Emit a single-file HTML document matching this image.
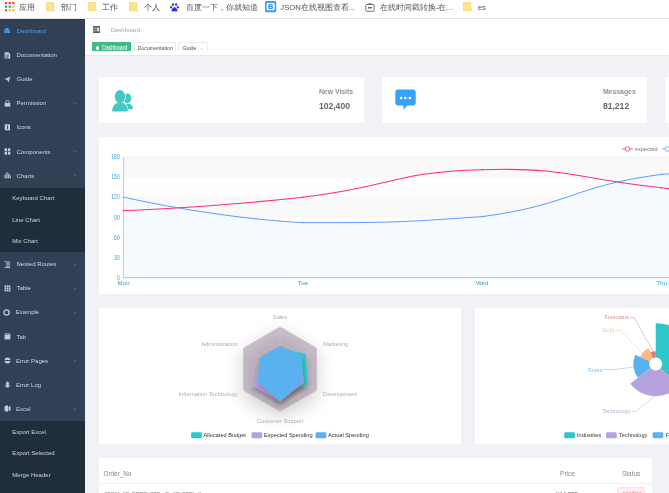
<!DOCTYPE html>
<html><head><meta charset="utf-8">
<style>
*{margin:0;padding:0;box-sizing:border-box;}
html,body{width:669px;height:493px;overflow:hidden;}
body{position:relative;background:#f0f2f5;font-family:"Liberation Sans",sans-serif;}
.abs{position:absolute;}
.t{position:absolute;white-space:nowrap;line-height:1;}
#bm{left:0;top:0;width:669px;height:19px;background:#fff;border-bottom:1px solid #e3e4e8;}
#bm .t{font-size:7.7px;color:#505357;top:3.6px;}
#side{left:0;top:19px;width:85.2px;height:474px;background:#304156;overflow:hidden;}
.mi{position:absolute;left:0;width:85.2px;height:24.1px;}
.mi .t{left:16.5px;top:8.9px;font-size:6.03px;color:#cdd6e0;}
.mi svg{position:absolute;left:3.8px;top:9px;}
.sub{position:absolute;left:0;width:85.2px;background:#1f2d3d;}
.si{position:absolute;left:0;width:85.2px;height:21.5px;}
.si .t{left:12.2px;top:7.6px;font-size:6.03px;color:#cdd6e0;}
.mi svg.chev{position:absolute;left:72.6px;top:10.6px;}
.card{position:absolute;background:#fff;}
#root{position:absolute;left:0;top:0;width:669px;height:493px;will-change:transform;}
</style></head><body><div id="root">
<!-- bookmarks bar -->
<div id="bm" class="abs">
  <svg class="abs" style="left:4.8px;top:2.2px" width="10" height="10" viewBox="0 0 10 10">
    <rect x="0" y="0" width="2.2" height="2.2" fill="#ea4335"/><rect x="3.6" y="0" width="2.2" height="2.2" fill="#ea4335"/><rect x="7.2" y="0" width="2.2" height="2.2" fill="#ea4335"/>
    <rect x="0" y="3.6" width="2.2" height="2.2" fill="#34a853"/><rect x="3.6" y="3.6" width="2.2" height="2.2" fill="#4285f4"/><rect x="7.2" y="3.6" width="2.2" height="2.2" fill="#fbbc05"/>
    <rect x="0" y="7.2" width="2.2" height="2.2" fill="#34a853"/><rect x="3.6" y="7.2" width="2.2" height="2.2" fill="#fbbc05"/><rect x="7.2" y="7.2" width="2.2" height="2.2" fill="#fbbc05"/>
  </svg>
  <span class="t" style="left:19.4px">应用</span>
  <svg class="abs" style="left:46.3px;top:2px" width="9" height="9.5" viewBox="0 0 9 9.5"><path d="M0.5 0.9 Q0.5 0.3 1.1 0.3 L7.2 0.3 Q7.8 0.3 7.8 0.9 L7.8 7 L8.3 7.5 L8.3 8.8 L1.1 8.8 Q0.5 8.8 0.5 8.2Z" fill="#fde48c" stroke="#f4cf63" stroke-width="0.6"/></svg>
  <span class="t" style="left:60.8px">部门</span>
  <svg class="abs" style="left:87.6px;top:2px" width="9" height="9.5" viewBox="0 0 9 9.5"><path d="M0.5 0.9 Q0.5 0.3 1.1 0.3 L7.2 0.3 Q7.8 0.3 7.8 0.9 L7.8 7 L8.3 7.5 L8.3 8.8 L1.1 8.8 Q0.5 8.8 0.5 8.2Z" fill="#fde48c" stroke="#f4cf63" stroke-width="0.6"/></svg>
  <span class="t" style="left:102.2px">工作</span>
  <svg class="abs" style="left:129px;top:2px" width="9" height="9.5" viewBox="0 0 9 9.5"><path d="M0.5 0.9 Q0.5 0.3 1.1 0.3 L7.2 0.3 Q7.8 0.3 7.8 0.9 L7.8 7 L8.3 7.5 L8.3 8.8 L1.1 8.8 Q0.5 8.8 0.5 8.2Z" fill="#fde48c" stroke="#f4cf63" stroke-width="0.6"/></svg>
  <span class="t" style="left:143.6px">个人</span>
  <svg class="abs" style="left:170px;top:2.5px" width="9" height="9" viewBox="0 0 9 9"><g fill="#2932e1"><ellipse cx="2.9" cy="1.6" rx="1.1" ry="1.4"/><ellipse cx="6.1" cy="1.6" rx="1.1" ry="1.4"/><ellipse cx="1.1" cy="4.2" rx="1" ry="1.3"/><ellipse cx="7.9" cy="4.2" rx="1" ry="1.3"/><path d="M4.5 4.3 C3 4.3 1.6 6.4 1.6 7.4 C1.6 8.6 3 8.5 4.5 8.3 C6 8.5 7.4 8.6 7.4 7.4 C7.4 6.4 6 4.3 4.5 4.3Z"/></g></svg>
  <span class="t" style="left:185.6px">百度一下，你就知道</span>
  <svg class="abs" style="left:265px;top:1.3px" width="12" height="12" viewBox="0 0 12 12"><rect x="0" y="0" width="11.2" height="11.2" rx="1.2" fill="#3d9cf5"/><path d="M2.4 2 Q1.7 2 1.7 2.7 L1.7 4.8 L1.1 5.6 L1.7 6.4 L1.7 8.5 Q1.7 9.2 2.4 9.2 L8.8 9.2 Q9.5 9.2 9.5 8.5 L9.5 6.4 L10.1 5.6 L9.5 4.8 L9.5 2.7 Q9.5 2 8.8 2Z" fill="#fff"/><text x="5.6" y="8.4" font-size="7.4" font-weight="bold" text-anchor="middle" fill="#1a7ff0" font-family="Liberation Sans">B</text></svg>
  <span class="t" style="left:280.3px">JSON在线视图查看...</span>
  <svg class="abs" style="left:364.8px;top:2.5px" width="10" height="9" viewBox="0 0 10 9"><rect x="0.8" y="1.5" width="8.2" height="6.8" rx="0.8" fill="none" stroke="#5f6368" stroke-width="0.9"/><rect x="3.3" y="0.4" width="3.2" height="1.6" fill="#5f6368"/><rect x="3" y="4" width="3.8" height="1.5" fill="#5f6368"/></svg>
  <span class="t" style="left:379.8px">在线时间戳转换-在...</span>
  <svg class="abs" style="left:463px;top:2px" width="9" height="9.5" viewBox="0 0 9 9.5"><path d="M0.5 0.9 Q0.5 0.3 1.1 0.3 L7.2 0.3 Q7.8 0.3 7.8 0.9 L7.8 7 L8.3 7.5 L8.3 8.8 L1.1 8.8 Q0.5 8.8 0.5 8.2Z" fill="#fde48c" stroke="#f4cf63" stroke-width="0.6"/></svg>
  <span class="t" style="left:477.7px">es</span>
</div>

<!-- sidebar -->
<div id="side" class="abs">
  <div class="mi" style="top:0.2px"><svg width="7" height="6" viewBox="0 0 7 6" style="top:9.1px"><path d="M0 5.1 C0 1.8 1.3 0 3 0 C4.7 0 6 1.8 6 5.1 Z" fill="#409EFF"/><rect x="1.9" y="2.3" width="0.6" height="2.8" fill="#304156"/><path d="M3.6 3.2 L5 2.6" stroke="#304156" stroke-width="0.5"/></svg><span class="t" style="color:#409EFF">Dashboard</span></div>
  <div class="mi" style="top:24.3px"><svg width="7" height="7" viewBox="0 0 7 7" style="top:8.3px"><path d="M0.6 0.3 L4.4 0.3 L6.2 2 L6.2 6.6 L0.6 6.6Z" fill="#bfcbd9"/><path d="M1.6 3 H5 M1.6 4.3 H5 M1.6 5.5 H4" stroke="#304156" stroke-width="0.6"/></svg><span class="t">Documentation</span></div>
  <div class="mi" style="top:48.4px"><svg width="7" height="7" viewBox="0 0 7 7" style="top:8.6px"><path d="M0.3 3.2 L6.4 0.4 L4.5 6.5 L3.3 4.1Z" fill="#bfcbd9"/></svg><span class="t">Guide</span></div>
  <div class="mi" style="top:72.5px"><svg width="7" height="7" viewBox="0 0 7 7" style="top:8.4px"><path d="M1.8 3.2 V2.2 A1.7 1.7 0 0 1 5.2 2.2 V3.2" stroke="#bfcbd9" stroke-width="0.9" fill="none"/><rect x="0.7" y="3" width="5.6" height="3.6" fill="#bfcbd9"/></svg><span class="t">Permission</span><svg class="chev" width="4" height="3" viewBox="0 0 4 3"><path d="M0.4 0.6 L2 2.2 L3.6 0.6" stroke="#7d8a99" stroke-width="0.5" fill="none"/></svg></div>
  <div class="mi" style="top:96.6px"><svg width="7" height="7" viewBox="0 0 7 7" style="top:8.6px"><rect x="0.8" y="0.3" width="5.2" height="6" fill="#bfcbd9"/><rect x="3" y="1.4" width="0.9" height="3.8" fill="#304156"/></svg><span class="t">Icons</span></div>
  <div class="mi" style="top:120.7px"><svg width="7" height="7" viewBox="0 0 7 7" style="top:8.4px"><rect x="0.6" y="0.3" width="2.4" height="2.9" fill="#bfcbd9"/><rect x="3.9" y="0.3" width="2.4" height="2.9" fill="#bfcbd9"/><rect x="0.6" y="3.8" width="2.4" height="2.9" fill="#bfcbd9"/><rect x="3.9" y="3.8" width="2.4" height="2.9" fill="#bfcbd9"/></svg><span class="t">Components</span><svg class="chev" width="4" height="3" viewBox="0 0 4 3"><path d="M0.4 0.6 L2 2.2 L3.6 0.6" stroke="#7d8a99" stroke-width="0.5" fill="none"/></svg></div>
  <div class="mi" style="top:144.8px"><svg width="7" height="7" viewBox="0 0 7 7" style="top:8.6px"><rect x="0.5" y="2.6" width="1.2" height="3.8" fill="#bfcbd9"/><rect x="2.3" y="0.3" width="1.2" height="6.1" fill="#bfcbd9"/><rect x="4.1" y="1.6" width="1.2" height="4.8" fill="#bfcbd9"/><rect x="5.8" y="3.2" width="1" height="3.2" fill="#bfcbd9"/></svg><span class="t">Charts</span><svg class="chev" width="4" height="3" viewBox="0 0 4 3"><path d="M0.4 2.2 L2 0.6 L3.6 2.2" stroke="#7d8a99" stroke-width="0.5" fill="none"/></svg></div>
  <div class="sub" style="top:168.9px;height:64.5px">
    <div class="si" style="top:0"><span class="t">Keyboard Chart</span></div>
    <div class="si" style="top:21.5px"><span class="t">Line Chart</span></div>
    <div class="si" style="top:43px"><span class="t">Mix Chart</span></div>
  </div>
  <div class="mi" style="top:233.4px"><svg width="7" height="7" viewBox="0 0 7 7" style="top:8.6px"><path d="M0.5 0.8 H6 M2 2.3 H6 M2 3.8 H6 M2 5.3 H6 M0.5 6.5 H6" stroke="#bfcbd9" stroke-width="0.8"/></svg><span class="t">Nested Routes</span><svg class="chev" width="4" height="3" viewBox="0 0 4 3"><path d="M0.4 0.6 L2 2.2 L3.6 0.6" stroke="#7d8a99" stroke-width="0.5" fill="none"/></svg></div>
  <div class="mi" style="top:257.5px"><svg width="7" height="7" viewBox="0 0 7 7" style="top:8.6px"><rect x="0.6" y="0.4" width="5.8" height="6" fill="#bfcbd9"/><path d="M0.6 2.4 H6.4 M0.6 4.4 H6.4 M2.5 0.4 V6.4 M4.5 0.4 V6.4" stroke="#304156" stroke-width="0.45"/></svg><span class="t">Table</span><svg class="chev" width="4" height="3" viewBox="0 0 4 3"><path d="M0.4 0.6 L2 2.2 L3.6 0.6" stroke="#7d8a99" stroke-width="0.5" fill="none"/></svg></div>
  <div class="mi" style="top:281.6px"><svg width="7" height="7" viewBox="0 0 7 7" style="left:3.2px;top:8.4px"><circle cx="3.5" cy="3.5" r="2.6" stroke="#bfcbd9" stroke-width="1.4" fill="none"/></svg><span class="t" style="left:15.8px">Example</span><svg class="chev" width="4" height="3" viewBox="0 0 4 3"><path d="M0.4 0.6 L2 2.2 L3.6 0.6" stroke="#7d8a99" stroke-width="0.5" fill="none"/></svg></div>
  <div class="mi" style="top:305.7px"><svg width="7" height="7" viewBox="0 0 7 7" style="top:8.6px"><rect x="0.6" y="0.4" width="5.8" height="6" fill="#bfcbd9"/><rect x="0.6" y="1.2" width="5.8" height="0.5" fill="#304156"/></svg><span class="t">Tab</span></div>
  <div class="mi" style="top:329.8px"><svg width="7" height="7" viewBox="0 0 7 7" style="top:8.4px"><circle cx="3.5" cy="3.5" r="3" fill="#bfcbd9"/><rect x="0.3" y="3" width="6.4" height="1" fill="#304156"/></svg><span class="t" style="left:16px">Error Pages</span><svg class="chev" width="4" height="3" viewBox="0 0 4 3"><path d="M0.4 0.6 L2 2.2 L3.6 0.6" stroke="#7d8a99" stroke-width="0.5" fill="none"/></svg></div>
  <div class="mi" style="top:353.9px"><svg width="7" height="7" viewBox="0 0 7 7" style="top:8.4px"><path d="M3.5 0.3 L5.6 2.4 L4.8 2.4 L4.8 6.6 L2.2 6.6 L2.2 2.4 L1.4 2.4Z" fill="#bfcbd9"/><rect x="0.6" y="4.5" width="5.8" height="0.8" fill="#bfcbd9"/></svg><span class="t" style="left:16px">Error Log</span></div>
  <div class="mi" style="top:378px"><svg width="7" height="7" viewBox="0 0 7 7" style="top:8.4px"><path d="M0.5 1 L4 0.3 L4 6.7 L0.5 6Z" fill="#bfcbd9"/><rect x="4.5" y="1.4" width="2" height="4.2" fill="#bfcbd9"/></svg><span class="t" style="left:16px">Excel</span><svg class="chev" width="4" height="3" viewBox="0 0 4 3"><path d="M0.4 2.2 L2 0.6 L3.6 2.2" stroke="#7d8a99" stroke-width="0.5" fill="none"/></svg></div>
  <div class="sub" style="top:402.1px;height:80px">
    <div class="si" style="top:0"><span class="t">Export Excel</span></div>
    <div class="si" style="top:21.5px"><span class="t">Export Selected</span></div>
    <div class="si" style="top:43px"><span class="t">Merge Header</span></div>
  </div>
</div>

<!-- navbar -->
<div class="abs" style="left:85.2px;top:19px;width:584px;height:21.5px;background:#fff;box-shadow:0 0.43px 1.7px rgba(0,21,41,.08);">
  <svg class="abs" style="left:7.7px;top:6.9px" width="7.2" height="7" viewBox="0 0 7.2 7"><rect x="0" y="0" width="7" height="6.9" fill="#949494"/><rect x="0" y="0" width="7" height="1.2" fill="#5c5c5c"/><rect x="0" y="5.6" width="7" height="1.3" fill="#555"/><rect x="0" y="2.9" width="4.4" height="1.1" fill="#6e6e6e"/><rect x="4.5" y="2.2" width="1.6" height="2.9" fill="#fff"/><path d="M5.9 2.5 L7 3.6 L5.9 4.7Z" fill="#555"/></svg>
  <span class="t" style="left:25.5px;top:7.7px;font-size:6px;color:#97a8be">Dashboard</span>
</div>
<!-- tags view -->
<div class="abs" style="left:85.2px;top:40.5px;width:584px;height:14px;background:#fff;box-shadow:0 0.5px 1.5px rgba(0,0,0,.10),0 0 1.3px rgba(0,0,0,.04);overflow:hidden">
  <div class="abs" style="left:6.8px;top:1.6px;width:38.9px;height:8.7px;background:#42b983;overflow:hidden">
    <div class="abs" style="left:3.7px;top:4.3px;width:3.4px;height:3.4px;border-radius:50%;background:#fff"></div>
    <span class="t" style="left:9.8px;top:3.3px;font-size:6.8px;color:#fff;transform:scale(0.76,1);transform-origin:0 0">Dashboard</span>
  </div>
  <div class="abs" style="left:48.4px;top:1.6px;width:42px;height:8.7px;border:0.5px solid #eaecf0;border-bottom:none;overflow:hidden">
    <span class="t" style="left:3px;top:3.4px;font-size:5.25px;color:#495060">Documentation</span>
  </div>
  <div class="abs" style="left:92.8px;top:1.6px;width:29.9px;height:8.7px;border:0.5px solid #eaecf0;border-bottom:none;overflow:hidden">
    <span class="t" style="left:3.4px;top:3.4px;font-size:5.3px;color:#495060">Guide</span>
    <svg class="abs" style="left:21.4px;top:5.2px" width="3" height="2" viewBox="0 0 3 2"><path d="M0.4 0.4 L1.5 1.5 L2.6 0.4" stroke="#9aa" stroke-width="0.5" fill="none"/></svg>
  </div>
</div>

<!-- panel cards -->
<div class="card" style="left:99.2px;top:77px;width:265.2px;height:46.4px">
  <svg class="abs" style="left:12px;top:11.5px" width="23" height="24" viewBox="0 0 23 24"><g fill="#40c9c6"><ellipse cx="16.4" cy="9.3" rx="3.9" ry="4.9"/><path d="M13 20.5 C13 17 15 14.8 17.6 14.8 C20.2 14.8 21.9 17.2 21.9 19.6 Q21.9 20.3 21.2 20.3 L13 20.5Z"/></g><g fill="#40c9c6" stroke="#fff" stroke-width="1.3"><ellipse cx="9" cy="7.6" rx="5.2" ry="6.6"/><path d="M1.2 21.8 C1.2 16.8 4.5 13.6 9 13.6 C13.5 13.6 16.9 16.8 16.9 21.8 Q16.9 22.6 16.1 22.6 L2 22.6 Q1.2 22.6 1.2 21.8Z"/></g><g fill="#40c9c6"><ellipse cx="9" cy="7.6" rx="5.2" ry="6.6"/><path d="M1.2 21.8 C1.2 16.8 4.5 13.6 9 13.6 C13.5 13.6 16.9 16.8 16.9 21.8 Q16.9 22.6 16.1 22.6 L2 22.6 Q1.2 22.6 1.2 21.8Z"/></g></svg>
  <span class="t" style="left:219.7px;top:12.2px;font-size:6.88px;font-weight:bold;color:rgba(0,0,0,.45)">New Visits</span>
  <span class="t" style="left:219.7px;top:24.8px;font-size:8.6px;font-weight:bold;color:#666">102,400</span>
</div>
<div class="card" style="left:382px;top:77px;width:265.2px;height:46.4px">
  <svg class="abs" style="left:12.6px;top:12.3px" width="22" height="22" viewBox="0 0 22 22"><path d="M3.2 0.4 H17.8 Q20.7 0.4 20.7 3.3 V13.6 Q20.7 16.5 17.8 16.5 H12.5 L8.3 20.8 L8.3 16.5 H3.2 Q0.3 16.5 0.3 13.6 V3.3 Q0.3 0.4 3.2 0.4Z" fill="#36a3f7"/><circle cx="6.1" cy="9" r="1.3" fill="#fff"/><circle cx="10.4" cy="9" r="1.3" fill="#fff"/><circle cx="14.9" cy="9" r="1.3" fill="#fff"/></svg>
  <span class="t" style="left:220.9px;top:12.2px;font-size:6.88px;font-weight:bold;color:rgba(0,0,0,.45)">Messages</span>
  <span class="t" style="left:220.9px;top:24.8px;font-size:8.6px;font-weight:bold;color:#666">81,212</span>
</div>
<div class="card" style="left:664.8px;top:77px;width:265.2px;height:46.4px"></div>

<!-- line chart card -->
<div class="card" style="left:99.1px;top:136.9px;width:1113px;height:157.6px"></div>
<!-- radar card -->
<div class="card" style="left:99.1px;top:308.1px;width:361.9px;height:135.9px"></div>
<!-- pie card -->
<div class="card" style="left:474.8px;top:308.1px;width:361.9px;height:135.9px"></div>
<!-- table card -->
<div class="card" style="left:99.1px;top:457.9px;width:553px;height:60px">
  <span class="t" style="left:4.4px;top:13.5px;font-size:6.33px;color:#83868c">Order_No</span>
  <span class="t" style="left:461px;top:13.5px;font-size:6.5px;color:#83868c">Price</span>
  <span class="t" style="left:522.9px;top:13.5px;font-size:6.45px;color:#83868c">Status</span>
  <div class="abs" style="left:0;top:24.8px;width:553px;height:0.5px;background:#eef0f4"></div>
  <span class="t" style="left:4.8px;top:33px;font-size:6.1px;color:#7d8086">4536fc1B-EEEE-335c-Be6B-53Bbdb</span>
  <span class="t" style="left:457px;top:33px;font-size:6px;color:#606266">¥14,333</span>
  <div class="abs" style="left:518px;top:29.6px;width:28px;height:9px;border-radius:1.7px;background:#fef0f0;border:0.43px solid #fde2e2"><span class="t" style="left:4.8px;top:2.6px;font-size:5.2px;color:#f56c6c">pending</span></div>
</div>

<svg class="abs" style="left:0;top:0" width="669" height="493" viewBox="0 0 669 493">
<rect x="123.60" y="257.57" width="1075.80" height="20.13" fill="rgba(250,250,250,0.1)"/><rect x="123.60" y="237.43" width="1075.80" height="20.13" fill="rgba(200,200,200,0.1)"/><rect x="123.60" y="217.30" width="1075.80" height="20.13" fill="rgba(250,250,250,0.1)"/><rect x="123.60" y="197.17" width="1075.80" height="20.13" fill="rgba(200,200,200,0.1)"/><rect x="123.60" y="177.03" width="1075.80" height="20.13" fill="rgba(250,250,250,0.1)"/><rect x="123.60" y="156.90" width="1075.80" height="20.13" fill="rgba(200,200,200,0.1)"/><line x1="123.60" y1="257.57" x2="1199.40" y2="257.57" stroke="#eee" stroke-width="0.43"/><line x1="123.60" y1="237.43" x2="1199.40" y2="237.43" stroke="#eee" stroke-width="0.43"/><line x1="123.60" y1="217.30" x2="1199.40" y2="217.30" stroke="#eee" stroke-width="0.43"/><line x1="123.60" y1="197.17" x2="1199.40" y2="197.17" stroke="#eee" stroke-width="0.43"/><line x1="123.60" y1="177.03" x2="1199.40" y2="177.03" stroke="#eee" stroke-width="0.43"/><line x1="123.60" y1="156.90" x2="1199.40" y2="156.90" stroke="#eee" stroke-width="0.43"/>
<path d="M123.60 197.17 C123.60 197.17 212.83 217.78 302.90 222.67 C392.13 222.67 393.74 222.67 482.20 216.63 C573.04 204.39 570.66 186.42 661.50 174.35 C749.96 168.98 751.28 168.98 840.80 168.98 C930.58 171.33 930.31 180.89 1020.10 183.74 C1109.61 186.59 1199.40 180.39 1199.40 180.39 L1199.40 277.70 L123.60 277.70 Z" fill="#f3f8ff" fill-opacity="0.7"/>
<line x1="123.6" y1="277.7" x2="1199.4" y2="277.7" stroke="#7cc3e8" stroke-width="0.9"/>
<line x1="123.6" y1="277.7" x2="123.6" y2="156.9" stroke="#86c7ea" stroke-width="0.7"/>
<g font-size="6.4" fill="#3aa2d8"><text transform="translate(119.8 280.00) scale(0.8 1)" text-anchor="end">0</text><text transform="translate(119.8 259.87) scale(0.8 1)" text-anchor="end">30</text><text transform="translate(119.8 239.73) scale(0.8 1)" text-anchor="end">60</text><text transform="translate(119.8 219.60) scale(0.8 1)" text-anchor="end">90</text><text transform="translate(119.8 199.47) scale(0.8 1)" text-anchor="end">120</text><text transform="translate(119.8 179.33) scale(0.8 1)" text-anchor="end">150</text><text transform="translate(119.8 159.20) scale(0.8 1)" text-anchor="end">180</text></g><g font-size="6.2" fill="#2a9ad4"><text x="123.60" y="285.2" text-anchor="middle">Mon</text><text x="302.90" y="285.2" text-anchor="middle">Tue</text><text x="482.20" y="285.2" text-anchor="middle">Wed</text><text x="661.50" y="285.2" text-anchor="middle">Thu</text><text x="840.80" y="285.2" text-anchor="middle">Fri</text><text x="1020.10" y="285.2" text-anchor="middle">Sat</text><text x="1199.40" y="285.2" text-anchor="middle">Sun</text></g>
<path d="M123.60 210.59 C123.60 210.59 213.65 207.36 302.90 197.17 C392.95 186.89 392.26 172.01 482.20 169.65 C571.56 167.31 571.88 178.38 661.50 187.77 C751.18 197.17 751.82 210.59 840.80 207.23 C931.12 202.84 929.53 180.49 1020.10 170.32 C1108.83 166.97 1199.40 166.97 1199.40 166.97" fill="none" stroke="#FF005A" stroke-width="1.05" stroke-opacity="0.82"/>
<path d="M123.60 197.17 C123.60 197.17 212.83 217.78 302.90 222.67 C392.13 222.67 393.74 222.67 482.20 216.63 C573.04 204.39 570.66 186.42 661.50 174.35 C749.96 168.98 751.28 168.98 840.80 168.98 C930.58 171.33 930.31 180.89 1020.10 183.74 C1109.61 186.59 1199.40 180.39 1199.40 180.39" fill="none" stroke="#3888fa" stroke-width="1.0" stroke-opacity="0.82"/>
<circle cx="123.60" cy="210.59" r="0.5" fill="#fff" stroke="#FF005A" stroke-width="0.6"/><circle cx="302.90" cy="197.17" r="0.5" fill="#fff" stroke="#FF005A" stroke-width="0.6"/><circle cx="482.20" cy="169.65" r="0.5" fill="#fff" stroke="#FF005A" stroke-width="0.6"/><circle cx="661.50" cy="187.77" r="0.5" fill="#fff" stroke="#FF005A" stroke-width="0.6"/><circle cx="840.80" cy="207.23" r="0.5" fill="#fff" stroke="#FF005A" stroke-width="0.6"/><circle cx="1020.10" cy="170.32" r="0.5" fill="#fff" stroke="#FF005A" stroke-width="0.6"/><circle cx="1199.40" cy="166.97" r="0.5" fill="#fff" stroke="#FF005A" stroke-width="0.6"/><circle cx="123.60" cy="197.17" r="0.5" fill="#fff" stroke="#3888fa" stroke-width="0.6"/><circle cx="302.90" cy="222.67" r="0.5" fill="#fff" stroke="#3888fa" stroke-width="0.6"/><circle cx="482.20" cy="216.63" r="0.5" fill="#fff" stroke="#3888fa" stroke-width="0.6"/><circle cx="661.50" cy="174.35" r="0.5" fill="#fff" stroke="#3888fa" stroke-width="0.6"/><circle cx="840.80" cy="168.98" r="0.5" fill="#fff" stroke="#3888fa" stroke-width="0.6"/><circle cx="1020.10" cy="183.74" r="0.5" fill="#fff" stroke="#3888fa" stroke-width="0.6"/><circle cx="1199.40" cy="180.39" r="0.5" fill="#fff" stroke="#3888fa" stroke-width="0.6"/>
<g opacity="0.75">
<line x1="622.2" y1="148.9" x2="632.8" y2="148.9" stroke="#FF005A" stroke-width="0.86"/>
<circle cx="627.5" cy="148.9" r="2.3" fill="#fff" stroke="#FF005A" stroke-width="0.86"/>
<text x="635" y="150.9" font-size="5.6" fill="#444">expected</text>
<line x1="662" y1="148.9" x2="672.6" y2="148.9" stroke="#3888fa" stroke-width="0.86"/>
<circle cx="667.3" cy="148.9" r="2.3" fill="#fff" stroke="#3888fa" stroke-width="0.86"/>
</g>
</svg>
<svg class="abs" style="left:0;top:0" width="669" height="493" viewBox="0 0 669 493">
<defs>
<filter id="sh1" x="-80%" y="-80%" width="260%" height="260%"><feGaussianBlur in="SourceAlpha" stdDeviation="9"/><feOffset dy="6.45"/><feComponentTransfer><feFuncA type="linear" slope="0.5"/></feComponentTransfer><feMerge><feMergeNode/><feMergeNode in="SourceGraphic"/></feMerge></filter>
<filter id="sh2" x="-50%" y="-50%" width="200%" height="200%"><feGaussianBlur in="SourceAlpha" stdDeviation="2.8"/><feOffset dy="4.3"/><feComponentTransfer><feFuncA type="linear" slope="0.2"/></feComponentTransfer><feMerge><feMergeNode/><feMergeNode in="SourceGraphic"/></feMerge></filter>
</defs>
<polygon points="280.05,326.60 243.16,347.90 243.16,390.50 280.05,411.80 316.94,390.50 316.94,347.90" fill="rgba(120,100,125,0.38)" filter="url(#sh1)"/>
<polygon points="280.05,326.60 243.16,347.90 243.16,390.50 280.05,411.80 316.94,390.50 316.94,347.90" fill="none" stroke="rgba(255,255,255,0.15)" stroke-width="0.43"/><polygon points="280.05,331.93 247.77,350.56 247.77,387.84 280.05,406.47 312.33,387.84 312.33,350.56" fill="none" stroke="rgba(255,255,255,0.15)" stroke-width="0.43"/><polygon points="280.05,337.25 252.38,353.22 252.38,385.18 280.05,401.15 307.72,385.18 307.72,353.22" fill="none" stroke="rgba(255,255,255,0.15)" stroke-width="0.43"/><polygon points="280.05,342.57 256.99,355.89 256.99,382.51 280.05,395.82 303.11,382.51 303.11,355.89" fill="none" stroke="rgba(255,255,255,0.15)" stroke-width="0.43"/><polygon points="280.05,347.90 261.60,358.55 261.60,379.85 280.05,390.50 298.50,379.85 298.50,358.55" fill="none" stroke="rgba(255,255,255,0.15)" stroke-width="0.43"/><polygon points="280.05,353.22 266.22,361.21 266.22,377.19 280.05,385.18 293.88,377.19 293.88,361.21" fill="none" stroke="rgba(255,255,255,0.15)" stroke-width="0.43"/><polygon points="280.05,358.55 270.83,363.88 270.83,374.52 280.05,379.85 289.27,374.52 289.27,363.88" fill="none" stroke="rgba(255,255,255,0.15)" stroke-width="0.43"/><polygon points="280.05,363.88 275.44,366.54 275.44,371.86 280.05,374.52 284.66,371.86 284.66,366.54" fill="none" stroke="rgba(255,255,255,0.15)" stroke-width="0.43"/><line x1="280.05" y1="369.20" x2="280.05" y2="326.60" stroke="rgba(255,255,255,0.3)" stroke-width="0.43"/><line x1="280.05" y1="369.20" x2="243.16" y2="347.90" stroke="rgba(255,255,255,0.3)" stroke-width="0.43"/><line x1="280.05" y1="369.20" x2="243.16" y2="390.50" stroke="rgba(255,255,255,0.3)" stroke-width="0.43"/><line x1="280.05" y1="369.20" x2="280.05" y2="411.80" stroke="rgba(255,255,255,0.3)" stroke-width="0.43"/><line x1="280.05" y1="369.20" x2="316.94" y2="390.50" stroke="rgba(255,255,255,0.3)" stroke-width="0.43"/><line x1="280.05" y1="369.20" x2="316.94" y2="347.90" stroke="rgba(255,255,255,0.3)" stroke-width="0.43"/>
<polygon points="280.05,347.90 267.14,361.75 257.91,381.98 280.05,392.63 307.72,385.18 305.87,354.29" fill="#2ec7c9" filter="url(#sh2)"/><polygon points="280.05,352.16 263.45,359.62 252.38,385.18 280.05,401.15 304.03,383.05 300.34,357.49" fill="#b6a2de" filter="url(#sh2)"/><polygon points="280.05,345.77 259.76,357.49 257.91,381.98 280.05,401.15 302.19,381.98 302.19,356.42" fill="#5ab1ef" filter="url(#sh2)"/>
<g font-size="5.75" fill="#adadad">
<text x="280" y="319" text-anchor="middle">Sales</text>
<text x="237.6" y="346.2" text-anchor="end">Administration</text>
<text x="237.8" y="395.7" text-anchor="end">Information Technology</text>
<text x="280.2" y="422.5" text-anchor="middle">Customer Support</text>
<text x="323" y="395.5">Development</text>
<text x="323" y="346">Marketing</text>
</g>
<g font-size="5.6" fill="#333">
<rect x="191.1" y="432.2" width="10.75" height="6" rx="1.3" fill="#2ec7c9"/><text x="203.6" y="436.5">Allocated Budget</text>
<rect x="251.5" y="432.2" width="10.75" height="6" rx="1.3" fill="#b6a2de"/><text x="264" y="436.5">Expected Spending</text>
<rect x="315.6" y="432.2" width="10.75" height="6" rx="1.3" fill="#5ab1ef"/><text x="328.1" y="436.5">Actual Spending</text>
</g>
</svg>
<svg class="abs" style="left:0;top:0" width="669" height="493" viewBox="0 0 669 493">
<path d="M655.75 323.15 A40.85 40.85 0 0 1 685.76 391.71 L660.49 368.38 A6.45 6.45 0 0 0 655.75 357.55 Z" fill="#2ec7c9"/><path d="M679.44 385.88 A32.25 32.25 0 0 1 630.25 383.74 L650.65 367.95 A6.45 6.45 0 0 0 660.49 368.38 Z" fill="#b6a2de"/><path d="M637.98 377.75 A22.47 22.47 0 0 1 635.23 354.84 L649.86 361.37 A6.45 6.45 0 0 0 650.65 367.95 Z" fill="#5ab1ef"/><path d="M640.04 356.99 A17.20 17.20 0 0 1 648.63 348.34 L653.08 358.13 A6.45 6.45 0 0 0 649.86 361.37 Z" fill="#ffb980"/><path d="M650.45 352.36 A12.79 12.79 0 0 1 655.75 351.21 L655.75 357.55 A6.45 6.45 0 0 0 653.08 358.13 Z" fill="#d87a80"/>
<g fill="none" stroke-width="0.43">
<polyline points="653.5,352 634,317.5 630,317.5" stroke="#d87a80"/>
<polyline points="644,355 620,330.2 615,330.2" stroke="#ffb980"/>
<polyline points="634,367 615,369.5 603.5,369.5" stroke="#5ab1ef"/>
<polyline points="654,396.5 636,411.5 631.5,411.5" stroke="#b6a2de"/>
</g>
<g font-size="5.6" opacity="0.88">
<text x="629" y="319.2" text-anchor="end" fill="#d87a80">Forecasts</text>
<text x="614" y="332" text-anchor="end" fill="#ffb980">Gold</text>
<text x="602.5" y="371.5" text-anchor="end" fill="#5ab1ef">Forex</text>
<text x="630.5" y="413.3" text-anchor="end" fill="#b6a2de">Technology</text>
</g>
<g font-size="5.6" fill="#333">
<rect x="564.2" y="432.2" width="10.75" height="6" rx="1.3" fill="#2ec7c9"/><text x="577" y="436.5">Industries</text>
<rect x="606" y="432.2" width="10.75" height="6" rx="1.3" fill="#b6a2de"/><text x="619" y="436.5">Technology</text>
<rect x="652.6" y="432.2" width="10.75" height="6" rx="1.3" fill="#5ab1ef"/><text x="665.5" y="436.5">Forex</text>
</g>
</svg>
</div></body></html>
